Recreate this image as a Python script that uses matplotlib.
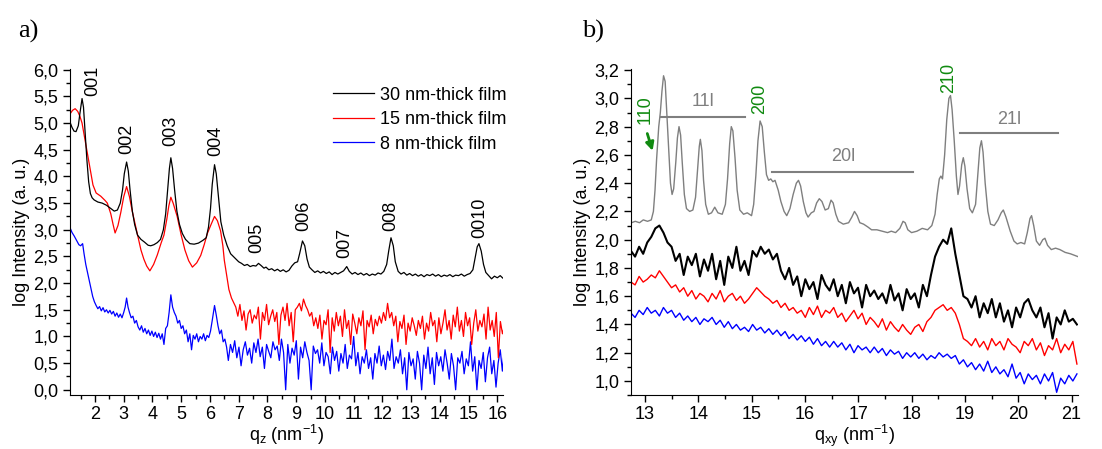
import numpy as np
import matplotlib
matplotlib.use("Agg")
import matplotlib.pyplot as plt
from matplotlib.ticker import MultipleLocator, FuncFormatter

plt.rcParams['font.family'] = ['Liberation Sans', 'DejaVu Sans']
plt.rcParams['mathtext.default'] = 'regular'
plt.rcParams['font.size'] = 13

# ---------------- panel a data (q_z, log intensity) ----------------
qa_30 = [1.13, 1.2, 1.27, 1.34, 1.42, 1.48, 1.55, 1.6, 1.66, 1.72, 1.78, 1.84, 1.9, 1.97,
         2.1, 2.25, 2.4, 2.55, 2.67, 2.78, 2.88, 2.96, 3.02, 3.1, 3.16, 3.22, 3.3, 3.38,
         3.48, 3.6, 3.72, 3.85, 3.94, 4.05, 4.17, 4.28, 4.38, 4.46, 4.53, 4.59, 4.64, 4.7,
         4.77, 4.85, 4.94, 5.04, 5.15, 5.3, 5.45, 5.6, 5.75, 5.87, 5.95, 6.02, 6.08, 6.16,
         6.22, 6.3, 6.38, 6.48, 6.6, 6.72, 6.85, 7.0, 7.1, 7.2, 7.3, 7.4, 7.5, 7.6, 7.69,
         7.78, 7.88, 7.95, 8.05, 8.15, 8.25, 8.35, 8.45, 8.55, 8.65, 8.75, 8.85, 8.95, 9.05,
         9.12, 9.22, 9.3, 9.38, 9.46, 9.55, 9.65, 9.75, 9.85, 9.95, 10.05, 10.15, 10.25,
         10.35, 10.45, 10.55, 10.65, 10.76, 10.85, 10.95, 11.05, 11.15, 11.25, 11.35, 11.45,
         11.55, 11.65, 11.75, 11.85, 11.95, 12.05, 12.15, 12.22, 12.3, 12.38, 12.45, 12.55,
         12.65, 12.75, 12.85, 12.95, 13.05, 13.15, 13.25, 13.35, 13.45, 13.55, 13.65, 13.75,
         13.85, 13.95, 14.05, 14.15, 14.25, 14.35, 14.45, 14.55, 14.65, 14.75, 14.85, 14.95,
         15.05, 15.15, 15.22, 15.3, 15.36, 15.44, 15.52, 15.6, 15.7, 15.8, 15.9, 16.0, 16.1,
         16.2, 16.25]
ia_30 = [5.02, 4.92, 4.85, 4.84, 4.95, 5.2, 5.46, 5.3, 4.8, 4.3, 3.9, 3.68, 3.6, 3.56,
         3.52, 3.5, 3.46, 3.4, 3.35, 3.37, 3.5, 3.75, 4.05, 4.27, 4.1, 3.75, 3.35, 3.1,
         2.9, 2.82, 2.77, 2.71, 2.7, 2.72, 2.76, 2.82, 3.0, 3.3, 3.75, 4.15, 4.35, 4.15,
         3.75, 3.35, 3.1, 2.93, 2.82, 2.74, 2.73, 2.75, 2.8, 2.85, 3.05, 3.4, 3.85, 4.22,
         4.05, 3.6, 3.15, 2.9, 2.7, 2.55, 2.48, 2.4, 2.37, 2.33, 2.35, 2.31, 2.33, 2.32, 2.37,
         2.33, 2.28, 2.3, 2.25, 2.27, 2.23, 2.26, 2.22, 2.25, 2.21, 2.24, 2.32, 2.38, 2.4,
         2.55, 2.79, 2.7, 2.45, 2.3, 2.25, 2.2, 2.23, 2.19, 2.22, 2.18, 2.21, 2.16,
         2.2, 2.17, 2.2, 2.23, 2.31, 2.22, 2.17, 2.2, 2.16, 2.19, 2.15, 2.18,
         2.14, 2.17, 2.15, 2.19, 2.17, 2.22, 2.35, 2.6, 2.85, 2.7, 2.4, 2.22,
         2.17, 2.2, 2.15, 2.18, 2.14, 2.17, 2.13, 2.16, 2.12, 2.16, 2.14, 2.17,
         2.13, 2.16, 2.12, 2.15, 2.13, 2.16, 2.12, 2.15, 2.14, 2.17, 2.13, 2.16,
         2.18, 2.25, 2.45, 2.68, 2.74, 2.6, 2.35, 2.2, 2.14, 2.08, 2.13, 2.1, 2.14,
         2.09, 2.12]

qa_15_smooth = [1.13, 1.22, 1.31, 1.4, 1.48, 1.55, 1.65, 1.75, 1.85, 1.93, 2.04, 2.2, 2.35,
                2.43, 2.55, 2.63, 2.7, 2.8, 2.9, 3.0, 3.1, 3.2, 3.3, 3.4, 3.48, 3.6, 3.7,
                3.8, 3.91, 4.04, 4.17, 4.3, 4.4, 4.5, 4.57, 4.64, 4.72, 4.86, 5.0, 5.13,
                5.26, 5.39, 5.54, 5.68, 5.8, 5.91, 6.04, 6.16, 6.26, 6.37, 6.45, 6.5,
                6.58, 6.66, 6.75, 6.83]
ia_15_smooth = [5.17, 5.24, 5.27, 5.22, 5.12, 5.0, 4.7, 4.39, 4.08, 3.84, 3.69, 3.63, 3.55,
                3.5, 3.3, 3.1, 2.94, 3.08, 3.33, 3.62, 3.81, 3.62, 3.34, 3.1, 2.9, 2.62, 2.45,
                2.32, 2.23, 2.35, 2.53, 2.75, 2.9, 3.2, 3.45, 3.61, 3.5, 3.25, 2.9, 2.62,
                2.42, 2.3, 2.38, 2.52, 2.72, 2.93, 3.1, 3.25, 3.17, 2.98, 2.7, 2.43,
                2.15, 1.88, 1.72, 1.63]
ia_15_noisy = [1.55, 1.38, 1.6, 1.3, 1.48, 1.12, 1.42, 1.5, 1.25, 1.4,
               1.33, 1.55, 0.95, 1.45, 1.3, 1.6, 1.22, 1.38, 1.5, 1.28,
               1.45, 0.85, 1.4, 1.55, 1.3, 1.62, 1.2, 1.45, 0.9, 1.5,
               1.55, 1.62, 1.48, 1.7, 1.58, 1.5, 1.38, 1.45, 1.2, 1.35,
               1.15, 1.4, 0.95, 1.3, 1.22, 1.5, 0.7, 1.35, 1.1, 1.45,
               1.2, 1.38, 1.0, 1.5, 1.15, 1.3, 0.85, 1.42, 1.25, 1.05,
               1.35, 1.2, 1.48, 0.75, 1.3, 1.18, 1.4, 1.05, 1.32, 1.2,
               1.38, 1.25, 1.45, 1.3, 1.62, 1.35, 1.45, 1.2, 1.38, 0.9,
               1.28, 1.15, 1.4, 0.85, 1.25, 1.1, 1.35, 1.2, 1.02, 1.3,
               1.15, 1.38, 0.95, 1.25, 1.1, 1.45, 1.2, 1.3, 0.9, 1.35,
               1.05, 1.25, 1.5, 1.12, 1.3, 0.95, 1.4, 1.18, 1.55, 1.1,
               1.3, 1.0, 1.45, 1.2, 1.35, 0.85, 1.25, 1.5, 1.1, 1.3,
               1.18, 1.42, 0.95, 1.55, 1.12, 1.3, 1.0, 1.45, 0.6, 1.28, 1.05, 1.2]

qa_8_smooth = [1.13, 1.2, 1.28, 1.36, 1.44, 1.5, 1.57, 1.62, 1.68, 1.74, 1.8, 1.86, 1.92,
               1.98, 2.04, 2.1, 2.16, 2.22, 2.28, 2.34, 2.4, 2.46, 2.52, 2.58, 2.64, 2.7,
               2.76, 2.82, 2.88, 2.94, 3.0, 3.05, 3.1, 3.15, 3.2, 3.26, 3.32, 3.38, 3.44,
               3.5, 3.56, 3.62, 3.68, 3.74, 3.8, 3.86, 3.92, 3.98, 4.04, 4.1, 4.16, 4.22,
               4.28, 4.34, 4.4, 4.46, 4.52, 4.58, 4.64, 4.7, 4.76, 4.82, 4.88, 4.94, 5.0,
               5.06, 5.12, 5.18, 5.24, 5.3, 5.36, 5.42, 5.48, 5.54, 5.6, 5.66, 5.72, 5.78,
               5.84, 5.9, 5.96, 6.02, 6.08, 6.16, 6.22, 6.28, 6.34, 6.4, 6.46, 6.52, 6.58]
ia_8_smooth = [3.04, 2.95, 2.88, 2.8, 2.72, 2.7, 2.74, 2.55, 2.35, 2.2, 2.05, 1.9, 1.75,
               1.65, 1.58, 1.52, 1.56, 1.48, 1.54, 1.46, 1.5, 1.44, 1.49, 1.42, 1.47, 1.38,
               1.44, 1.36, 1.42, 1.35, 1.45, 1.55, 1.72, 1.55, 1.45, 1.35, 1.38, 1.25, 1.3,
               1.18, 1.12, 1.2, 1.08, 1.15, 1.05, 1.12, 1.02, 1.1, 1.0, 1.08, 0.98, 1.06,
               0.95, 1.05, 0.85, 1.15, 1.2, 1.45, 1.78, 1.55, 1.45, 1.38, 1.25, 1.3, 1.15,
               1.2, 1.05, 1.12, 0.9, 1.05, 0.75, 1.02, 0.95, 1.05, 0.9, 1.0, 0.95, 1.05,
               0.92, 1.02, 0.98, 1.1, 1.3, 1.58, 1.4, 1.2, 1.05, 1.12, 0.9, 0.95, 0.8]
ia_8_noisy = [0.55, 0.85, 0.7, 0.92, 0.6, 0.8, 0.45, 0.75, 0.9, 0.65,
              0.78, 0.5, 0.88, 0.7, 0.95, 0.62, 0.8, 0.4, 0.85, 0.72,
              0.6, 0.9, 0.75, 0.82, 0.55, 0.95, 0.7, 0.0, 0.85, 0.5,
              0.78, 0.65, 0.92, 0.2, 0.8, 0.6, 0.9, 0.7, 0.55, 0.0,
              0.82, 0.68, 0.75, 0.5, 0.88, 0.45, 0.7, 0.62, 0.3, 0.8,
              0.55, 0.72, 0.35, 0.68, 0.5, 0.85, 0.4, 0.65, 0.58, 1.0,
              0.45, 0.7, 0.3, 0.62, 0.5, 0.75, 0.4, 0.6, 0.2, 0.68,
              0.5, 0.82, 0.45, 0.65, 0.38, 0.72, 0.55, 0.95, 0.4, 0.62,
              0.5, 0.75, 0.3, 0.6, 0.0, 0.7, 0.45, 0.58, 0.2, 0.72,
              0.5, 0.0, 0.65, 0.4, 0.8, 0.3, 0.6, 0.1, 0.7, 0.45,
              0.62, 0.35, 0.75, 0.5, 0.2, 0.68, 0.45, 0.0, 0.6, 0.5,
              0.72, 0.3, 0.58, 0.45, 0.9, 0.35, 0.62, 0.0, 0.55, 0.4,
              0.7, 0.15, 0.6, 0.8, 0.3, 0.55, 0.05, 0.5, 0.75, 0.35, 0.8]

labels_a = ['001', '002', '003', '004', '005', '006', '007', '008', '0010']
label_q_a = [1.93, 3.11, 4.64, 6.2, 7.64, 9.26, 10.68, 12.3, 15.38]
label_y_a = [5.5, 4.43, 4.58, 4.39, 2.56, 2.98, 2.48, 2.98, 2.85]

# ---------------- panel b data (q_xy, log intensity) ----------------
qb_ref = [12.75, 12.82, 12.9, 12.97, 13.05, 13.12, 13.16, 13.19, 13.22, 13.26, 13.29, 13.32,
          13.35, 13.38, 13.41, 13.45, 13.48, 13.51, 13.54, 13.58, 13.61, 13.64, 13.67, 13.7,
          13.74, 13.78, 13.84, 13.9, 13.95, 13.99, 14.02, 14.04, 14.07, 14.1, 14.14, 14.19,
          14.25, 14.31, 14.37, 14.45, 14.51, 14.55, 14.59, 14.62, 14.65, 14.69, 14.73, 14.78,
          14.85, 14.92, 15.0, 15.04, 15.08, 15.12, 15.16, 15.2, 15.24, 15.28, 15.32, 15.36,
          15.4, 15.44, 15.5, 15.55, 15.61, 15.66, 15.72, 15.78, 15.84, 15.88, 15.92, 15.97,
          16.02, 16.06, 16.12, 16.17, 16.22, 16.27, 16.32, 16.38, 16.44, 16.49, 16.53, 16.58,
          16.63, 16.72, 16.82, 16.88, 16.93, 16.98, 17.03, 17.1, 17.18, 17.25, 17.35, 17.45,
          17.55, 17.62, 17.7, 17.78, 17.84, 17.88, 17.93, 18.0, 18.1, 18.2, 18.3, 18.38,
          18.44, 18.48, 18.52, 18.55, 18.58, 18.62, 18.66, 18.7, 18.73, 18.76, 18.8, 18.84,
          18.87, 18.9, 18.94, 18.97, 19.0, 19.04, 19.09, 19.14, 19.2, 19.24, 19.28, 19.31,
          19.34, 19.38, 19.43, 19.48, 19.55, 19.62, 19.68, 19.72, 19.77, 19.85, 19.92, 19.98,
          20.05, 20.12, 20.17, 20.22, 20.25, 20.29, 20.34, 20.4, 20.46, 20.5, 20.55, 20.62,
          20.7, 20.78, 20.88, 20.98, 21.05, 21.12]
ib_ref = [2.12, 2.13, 2.12, 2.14, 2.13, 2.14, 2.2, 2.35, 2.57, 2.8, 2.9, 3.05,
          3.16, 3.12, 2.9, 2.6, 2.4, 2.32, 2.36, 2.55, 2.72, 2.8, 2.74, 2.55,
          2.32, 2.22, 2.2, 2.21, 2.3, 2.5, 2.66, 2.71, 2.63, 2.42, 2.25, 2.18,
          2.19, 2.23, 2.19, 2.18, 2.25, 2.43, 2.68, 2.8, 2.77, 2.58, 2.35, 2.21,
          2.18, 2.19, 2.17, 2.25, 2.45, 2.7, 2.84, 2.8, 2.62, 2.46, 2.42, 2.43,
          2.41, 2.42, 2.35, 2.27, 2.2, 2.17, 2.22, 2.32, 2.4, 2.42, 2.38, 2.27,
          2.19, 2.16, 2.19, 2.2, 2.26, 2.29, 2.27, 2.21, 2.22, 2.28, 2.26, 2.18,
          2.13, 2.11, 2.12, 2.16, 2.2, 2.17, 2.12, 2.11, 2.09, 2.07, 2.07, 2.06,
          2.05, 2.06, 2.05, 2.08, 2.13, 2.12, 2.07, 2.05, 2.06, 2.08, 2.07, 2.1,
          2.18, 2.32, 2.43, 2.45, 2.43, 2.6, 2.85, 3.0, 3.02, 2.92, 2.7, 2.45,
          2.32, 2.38, 2.53, 2.58, 2.52, 2.36, 2.22, 2.19, 2.25, 2.45, 2.65, 2.7,
          2.62, 2.4, 2.2, 2.11, 2.1, 2.14, 2.19, 2.21, 2.16, 2.06, 1.99, 1.97,
          1.98, 1.97, 2.05, 2.15, 2.17, 2.1, 1.99, 1.96, 2.0, 2.01, 1.96, 1.93,
          1.94, 1.93, 1.91, 1.9, 1.89, 1.88]

ib_30 = [1.92, 1.88, 1.95, 1.9, 1.98, 2.02, 2.08, 2.1, 2.05, 1.98,
         1.95, 1.85, 1.9, 1.75, 1.88, 1.82, 1.9, 1.74, 1.86, 1.78,
         1.9, 1.72, 1.85, 1.68, 1.88, 1.8, 1.95, 1.78, 1.85, 1.75,
         1.92, 1.88, 1.95, 1.9, 1.93, 1.86, 1.9, 1.78, 1.72, 1.8,
         1.68, 1.74, 1.6, 1.72, 1.65, 1.7, 1.58, 1.75, 1.68, 1.64,
         1.72, 1.6, 1.68, 1.55, 1.7, 1.62, 1.66, 1.52, 1.68, 1.6,
         1.64, 1.58, 1.62, 1.55, 1.68, 1.57, 1.62, 1.5, 1.65, 1.58,
         1.62, 1.52, 1.68, 1.6, 1.75, 1.88, 1.95, 2.0, 1.97, 2.08,
         1.9, 1.75, 1.6, 1.58, 1.52, 1.6, 1.45, 1.55, 1.48, 1.58,
         1.45, 1.55, 1.42, 1.5, 1.38, 1.52, 1.45, 1.55, 1.58, 1.5,
         1.45, 1.52, 1.38, 1.48, 1.3, 1.45, 1.4, 1.5, 1.42, 1.44, 1.4]
ib_15 = [1.7, 1.68, 1.74, 1.7, 1.72, 1.75, 1.73, 1.78, 1.74, 1.7,
         1.66, 1.68, 1.63, 1.66, 1.6, 1.64, 1.58, 1.62, 1.6, 1.56,
         1.62, 1.58, 1.64, 1.56, 1.6, 1.62, 1.57, 1.6, 1.55, 1.58,
         1.62, 1.66, 1.63, 1.6, 1.58, 1.55, 1.57, 1.52, 1.55, 1.5,
         1.52, 1.48, 1.5, 1.45, 1.52, 1.47, 1.53, 1.45, 1.5, 1.48,
         1.52, 1.45, 1.48, 1.42, 1.46, 1.5, 1.44, 1.48, 1.4, 1.45,
         1.42, 1.38, 1.44, 1.36, 1.42, 1.38, 1.35, 1.4, 1.36, 1.33,
         1.38, 1.4, 1.35, 1.42, 1.45, 1.5, 1.52, 1.54, 1.5, 1.52,
         1.48, 1.4, 1.3, 1.28, 1.25, 1.3, 1.24, 1.28, 1.22, 1.3,
         1.25, 1.28, 1.22, 1.3, 1.26, 1.24, 1.2, 1.28, 1.25, 1.3,
         1.22, 1.27, 1.18, 1.25, 1.22, 1.3, 1.2, 1.26, 1.22, 1.28, 1.12]
ib_8 = [1.48, 1.45, 1.5, 1.47, 1.52, 1.48, 1.5, 1.46, 1.52, 1.48,
        1.5, 1.45, 1.48, 1.43, 1.46, 1.42, 1.45, 1.4, 1.44, 1.42,
        1.45, 1.4, 1.43, 1.38, 1.42, 1.37, 1.4, 1.36, 1.38, 1.35,
        1.4, 1.36, 1.38, 1.34, 1.37, 1.33, 1.36, 1.32, 1.35, 1.3,
        1.33, 1.29, 1.32, 1.28, 1.31, 1.26, 1.3, 1.25, 1.28, 1.24,
        1.28, 1.24, 1.27, 1.22, 1.26, 1.2, 1.25, 1.22, 1.24, 1.2,
        1.24, 1.2, 1.23, 1.18, 1.22, 1.19, 1.21, 1.16, 1.2, 1.17,
        1.2, 1.16, 1.19, 1.15, 1.18, 1.16, 1.2, 1.17, 1.19, 1.16,
        1.18, 1.12, 1.15, 1.1, 1.13, 1.08, 1.12, 1.07, 1.14, 1.06,
        1.1, 1.05, 1.08, 1.03, 1.12, 1.02, 1.06, 0.98, 1.05, 1.01,
        1.04, 0.98, 1.05, 1.0, 1.06, 0.92, 1.02, 0.98, 1.04, 1.0, 1.05]

green_labels = ['110', '200', '210']
green_q = [13.0, 15.16, 18.69]
green_y = [2.82, 2.89, 3.04]
group_labels = ['11l', '20l', '21l']
group_start = [13.31, 15.39, 18.91]
group_end = [14.87, 18.03, 20.75]
group_line_y = [2.87, 2.48, 2.755]
group_text_y = [2.98, 2.59, 2.85]

GRAY = '#7f7f7f'
GREEN = '#108a10'


def comma(v, pos):
    return ('%.1f' % v).replace('.', ',')


def style_axes(ax):
    ax.spines['top'].set_visible(False)
    ax.spines['right'].set_visible(False)
    ax.tick_params(which='major', direction='out', length=5, width=1, labelsize=13)
    ax.tick_params(which='minor', direction='out', length=3, width=1)
    ax.tick_params(axis='x', which='major', pad=2.5)
    ax.yaxis.set_major_formatter(FuncFormatter(comma))


fig = plt.figure(figsize=(11.02, 4.49), dpi=100)
ax1 = fig.add_axes([0.0635, 0.12, 0.393, 0.727])
ax2 = fig.add_axes([0.5726, 0.12, 0.4056, 0.727])

# panel a
qa_15 = qa_15_smooth + list(np.linspace(6.9, 16.25, len(ia_15_noisy)))
ia_15 = ia_15_smooth + ia_15_noisy
qa_8 = qa_8_smooth + list(np.linspace(6.64, 16.25, len(ia_8_noisy)))
ia_8 = ia_8_smooth + ia_8_noisy

ax1.plot(qa_8, ia_8, color='#0000ff', lw=0.9, label='8 nm-thick film')
ax1.plot(qa_15, ia_15, color='#ff0000', lw=0.9, label='15 nm-thick film')
ax1.plot(qa_30, ia_30, color='black', lw=0.9, label='30 nm-thick film')

for t, x, y in zip(labels_a, label_q_a, label_y_a):
    ax1.text(x, y, t, rotation=90, ha='center', va='bottom', fontsize=13)

h, l = ax1.get_legend_handles_labels()
ax1.legend(h[::-1], l[::-1], loc='upper right', bbox_to_anchor=(1.045, 0.995),
           frameon=False, fontsize=13, handlelength=2.3, labelspacing=0.42,
           handletextpad=0.3)

ax1.set_xlim(1.13, 16.2)
ax1.set_ylim(-0.1, 6.02)
ax1.xaxis.set_major_locator(MultipleLocator(1))
ax1.xaxis.set_minor_locator(MultipleLocator(0.5))
ax1.yaxis.set_major_locator(MultipleLocator(0.5))
ax1.yaxis.set_minor_locator(MultipleLocator(0.25))
ax1.xaxis.set_major_formatter(FuncFormatter(lambda v, p: '%d' % v))
style_axes(ax1)
ax1.set_xlabel('q$_z$ (nm$^{-1}$)', fontsize=13, labelpad=0)
ax1.set_ylabel('log Intensity (a. u.)', fontsize=13, labelpad=2)

# panel b
qb = np.linspace(12.74, 21.1, len(ib_30))
ax2.plot(qb_ref, ib_ref, color=GRAY, lw=1.0)
ax2.plot(qb, ib_8, color='#0000ff', lw=1.0)
ax2.plot(qb, ib_15, color='#ff0000', lw=1.0)
ax2.plot(qb, ib_30, color='black', lw=1.5)

for t, x, y in zip(green_labels, green_q, green_y):
    ax2.text(x, y, t, rotation=90, ha='center', va='bottom', fontsize=13, color=GREEN)
ax2.annotate('', xy=(13.16, 2.61), xytext=(13.03, 2.77),
             arrowprops=dict(arrowstyle='-|>', color=GREEN, lw=2, mutation_scale=12))
for t, x0, x1, yl, yt in zip(group_labels, group_start, group_end, group_line_y, group_text_y):
    ax2.plot([x0, x1], [yl, yl], color=GRAY, lw=1.5)
    ax2.text((x0 + x1) / 2, yt, t, ha='center', va='center', fontsize=13, color=GRAY)

ax2.set_xlim(12.74, 21.12)
ax2.set_ylim(0.9, 3.21)
ax2.xaxis.set_major_locator(MultipleLocator(1))
ax2.xaxis.set_minor_locator(MultipleLocator(0.5))
ax2.yaxis.set_major_locator(MultipleLocator(0.2))
ax2.yaxis.set_minor_locator(MultipleLocator(0.1))
ax2.xaxis.set_major_formatter(FuncFormatter(lambda v, p: '%d' % v))
style_axes(ax2)
ax2.set_xlabel('q$_{xy}$ (nm$^{-1}$)', fontsize=13, labelpad=0)
ax2.set_ylabel('log Intensity (a. u.)', fontsize=13, labelpad=2)

fig.text(0.016, 0.93, 'a)', fontsize=19, family='Liberation Serif', va='center')
fig.text(0.528, 0.93, 'b)', fontsize=19, family='Liberation Serif', va='center')

fig.savefig('out.png', dpi=100)
